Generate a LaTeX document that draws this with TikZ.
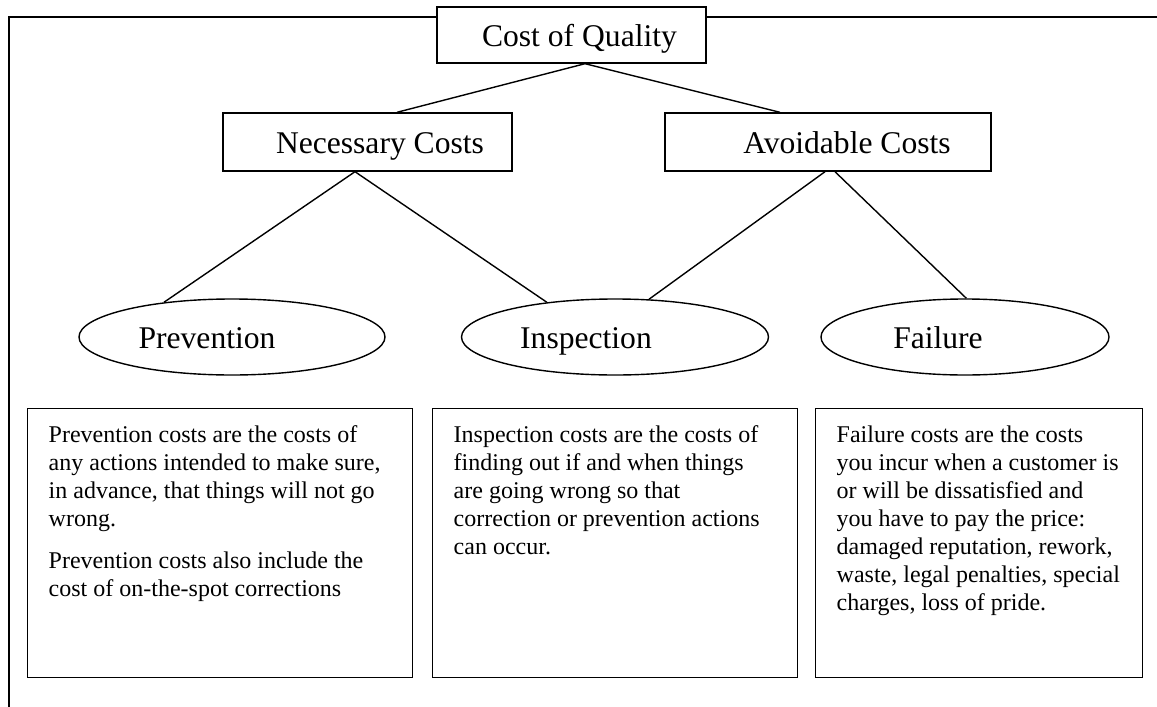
\documentclass[tikz,border=0pt]{standalone}
\usepackage{fontspec}
\setmainfont{Liberation Serif}
\usetikzlibrary{shapes.geometric}
\begin{document}
\begin{tikzpicture}[x=1pt,y=-1pt,line width=1.4pt,
  hbox/.style={draw,fill=white,rectangle,inner sep=0pt,font=\fontsize{31.6}{36}\selectfont,text height=23.5pt,text depth=0pt},
  oval/.style={draw,ellipse,inner sep=0pt,minimum height=76pt,font=\fontsize{31.6}{36}\selectfont,text height=23.5pt,text depth=0pt},
  tbox/.style={draw,rectangle,inner sep=0pt,anchor=north west,minimum height=269pt},
  tx/.style={anchor=base west,inner sep=0pt,font=\fontsize{24}{28}\selectfont},
  conn/.style={line width=1.4pt}]
\useasboundingbox (0,0) rectangle (1157,707);
% open outer frame
\coordinate (fright) at (1157,17);
\coordinate (fcorner) at (9,17);
\coordinate (fbottom) at (9,707);
\draw (fright) -- (fcorner) -- (fbottom);
% header boxes
\node[hbox,minimum width=269pt,minimum height=56pt] (coq) at (571.5,35) {\hspace*{16pt}Cost of Quality};
\node[hbox,minimum width=289pt,minimum height=58pt] (nec) at (367.5,142) {\hspace*{25pt}Necessary Costs};
\node[hbox,minimum width=326pt,minimum height=58pt] (avo) at (828,142) {\hspace*{38pt}Avoidable Costs};
% ellipses
\node[oval,minimum width=306pt] (prev) at (232,337) {Prevention\hspace*{50pt}};
\node[oval,minimum width=307pt] (insp) at (615,337) {Inspection\hspace*{58pt}};
\node[oval,minimum width=288pt] (fail) at (965,337) {Failure\hspace*{54pt}};
% connectors
\draw[conn] ([xshift=13.5pt]coq.south) -- ([xshift=29.5pt]nec.north);
\draw[conn] ([xshift=13.5pt]coq.south) -- ([xshift=-48pt]avo.north);
\draw[conn] ([xshift=-12.5pt]nec.south) -- (prev.153);
\draw[conn] ([xshift=-12.5pt]nec.south) -- (insp.153.6);
\draw[conn] ([xshift=-3pt]avo.south) -- (insp.48.3);
\draw[conn] ([xshift=7pt]avo.south) -- (fail.88);
% text boxes
\node[tbox,minimum width=385pt] (pbox) at (27,408) {};
\node[tbox,minimum width=365pt] (ibox) at (432,408) {};
\node[tbox,minimum width=327pt] (fbox) at (815,408) {};
\node[tx] (ptext) at ([xshift=21pt,yshift=-34pt]pbox.north west)
 {\begin{tabular}[t]{@{}l@{}}
  Prevention costs are the costs of\\
  any actions intended to make sure,\\
  in advance, that things will not go\\
  wrong.\\[14pt]
  Prevention costs also include the\\
  cost of on-the-spot corrections
  \end{tabular}};
\node[tx] (itext) at ([xshift=21pt,yshift=-34pt]ibox.north west)
 {\begin{tabular}[t]{@{}l@{}}
  Inspection costs are the costs of\\
  finding out if and when things\\
  are going wrong so that\\
  correction or prevention actions\\
  can occur.
  \end{tabular}};
\node[tx] (ftext) at ([xshift=21pt,yshift=-34pt]fbox.north west)
 {\begin{tabular}[t]{@{}l@{}}
  Failure costs are the costs\\
  you incur when a customer is\\
  or will be dissatisfied and\\
  you have to pay the price:\\
  damaged reputation, rework,\\
  waste, legal penalties, special\\
  charges, loss of pride.
  \end{tabular}};
\end{tikzpicture}
\end{document}
